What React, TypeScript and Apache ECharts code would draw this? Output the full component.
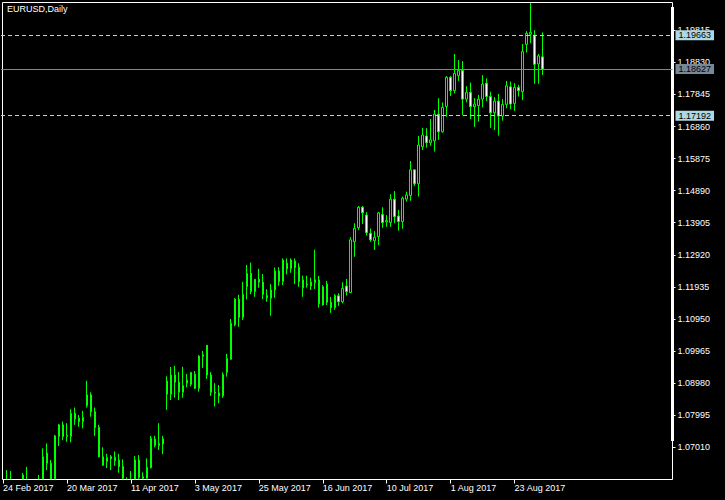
import React, { useEffect, useRef } from 'react';
import * as echarts from 'echarts';

const symbolTitle = 'EURUSD,Daily';

const dates = [
  '2017-02-24', '2017-02-27', '2017-02-28',
  '2017-03-01', '2017-03-02', '2017-03-03', '2017-03-06', '2017-03-07', '2017-03-08', '2017-03-09', '2017-03-10',
  '2017-03-13', '2017-03-14', '2017-03-15', '2017-03-16', '2017-03-17', '2017-03-20', '2017-03-21', '2017-03-22',
  '2017-03-23', '2017-03-24', '2017-03-27', '2017-03-28', '2017-03-29', '2017-03-30', '2017-03-31',
  '2017-04-03', '2017-04-04', '2017-04-05', '2017-04-06', '2017-04-07', '2017-04-10', '2017-04-11', '2017-04-12',
  '2017-04-13', '2017-04-14', '2017-04-17', '2017-04-18', '2017-04-19', '2017-04-20', '2017-04-21', '2017-04-24',
  '2017-04-25', '2017-04-26', '2017-04-27', '2017-04-28',
  '2017-05-01', '2017-05-02', '2017-05-03', '2017-05-04', '2017-05-05', '2017-05-08', '2017-05-09', '2017-05-10',
  '2017-05-11', '2017-05-12', '2017-05-15', '2017-05-16', '2017-05-17', '2017-05-18', '2017-05-19', '2017-05-22',
  '2017-05-23', '2017-05-24', '2017-05-25', '2017-05-26', '2017-05-29', '2017-05-30', '2017-05-31',
  '2017-06-01', '2017-06-02', '2017-06-05', '2017-06-06', '2017-06-07', '2017-06-08', '2017-06-09', '2017-06-12',
  '2017-06-13', '2017-06-14', '2017-06-15', '2017-06-16', '2017-06-19', '2017-06-20', '2017-06-21', '2017-06-22',
  '2017-06-23', '2017-06-26', '2017-06-27', '2017-06-28', '2017-06-29', '2017-06-30',
  '2017-07-03', '2017-07-04', '2017-07-05', '2017-07-06', '2017-07-07', '2017-07-10', '2017-07-11', '2017-07-12',
  '2017-07-13', '2017-07-14', '2017-07-17', '2017-07-18', '2017-07-19', '2017-07-20', '2017-07-21', '2017-07-24',
  '2017-07-25', '2017-07-26', '2017-07-27', '2017-07-28', '2017-07-31',
  '2017-08-01', '2017-08-02', '2017-08-03', '2017-08-04', '2017-08-07', '2017-08-08', '2017-08-09', '2017-08-10',
  '2017-08-11', '2017-08-14', '2017-08-15', '2017-08-16', '2017-08-17', '2017-08-18', '2017-08-21', '2017-08-22',
  '2017-08-23', '2017-08-24', '2017-08-25', '2017-08-28', '2017-08-29', '2017-08-30', '2017-08-31',
  '2017-09-01',
];

const opens = [
  1.0585, 1.0565, 1.0590, 1.0575, 1.0545, 1.0510, 1.0600, 1.0580, 1.0570, 1.0545,
  1.0580, 1.0683, 1.0652, 1.0604, 1.0734, 1.0770, 1.0734, 1.0734, 1.0805, 1.0790,
  1.0780, 1.0829, 1.0862, 1.0810, 1.0762, 1.0672, 1.0657, 1.0672, 1.0670, 1.0662,
  1.0642, 1.0598, 1.0600, 1.0602, 1.0662, 1.0605, 1.0606, 1.0638, 1.0726, 1.0706,
  1.0727, 1.0904, 1.0864, 1.0923, 1.0901, 1.0870, 1.0907, 1.0894, 1.0925, 1.0882,
  1.0980, 1.1014, 1.0923, 1.0870, 1.0868, 1.0859, 1.0931, 1.0971, 1.1077, 1.1155,
  1.1100, 1.1194, 1.1235, 1.1179, 1.1217, 1.1208, 1.1167, 1.1159, 1.1184, 1.1242,
  1.1210, 1.1266, 1.1249, 1.1273, 1.1254, 1.1215, 1.1199, 1.1208, 1.1206, 1.1215,
  1.1138, 1.1202, 1.1146, 1.1130, 1.1166, 1.1148, 1.1196, 1.1176, 1.1332, 1.1375,
  1.1438, 1.1414, 1.1358, 1.1335, 1.1348, 1.1416, 1.1393, 1.1391, 1.1463, 1.1411,
  1.1394, 1.1463, 1.1474, 1.1553, 1.1510, 1.1624, 1.1657, 1.1636, 1.1642, 1.1724,
  1.1670, 1.1747, 1.1837, 1.1796, 1.1842, 1.1858, 1.1770, 1.1791, 1.1747, 1.1750,
  1.1770, 1.1819, 1.1778, 1.1728, 1.1764, 1.1718, 1.1754, 1.1808, 1.1757, 1.1806,
  1.1793, 1.1938, 1.1969, 1.1967, 1.1878, 1.1900,
];

const highs = [
  1.0600, 1.0631, 1.0628, 1.0590, 1.0560, 1.0622, 1.0641, 1.0600, 1.0590, 1.0616,
  1.0698, 1.0713, 1.0662, 1.0739, 1.0773, 1.0780, 1.0775, 1.0818, 1.0823, 1.0800,
  1.0813, 1.0905, 1.0870, 1.0823, 1.0770, 1.0701, 1.0681, 1.0677, 1.0688, 1.0681,
  1.0664, 1.0609, 1.0628, 1.0674, 1.0677, 1.0624, 1.0667, 1.0736, 1.0736, 1.0775,
  1.0736, 1.0919, 1.0948, 1.0951, 1.0932, 1.0948, 1.0926, 1.0932, 1.0935, 1.0984,
  1.0997, 1.1015, 1.0932, 1.0898, 1.0892, 1.0931, 1.0988, 1.1095, 1.1159, 1.1169,
  1.1209, 1.1261, 1.1268, 1.1217, 1.1249, 1.1233, 1.1186, 1.1202, 1.1253, 1.1254,
  1.1281, 1.1281, 1.1281, 1.1281, 1.1266, 1.1228, 1.1228, 1.1222, 1.1308, 1.1227,
  1.1199, 1.1212, 1.1163, 1.1171, 1.1174, 1.1208, 1.1218, 1.1346, 1.1389, 1.1442,
  1.1442, 1.1423, 1.1373, 1.1365, 1.1424, 1.1438, 1.1414, 1.1478, 1.1488, 1.1430,
  1.1471, 1.1486, 1.1580, 1.1553, 1.1657, 1.1682, 1.1681, 1.1709, 1.1737, 1.1773,
  1.1760, 1.1841, 1.1841, 1.1909, 1.1890, 1.1887, 1.1810, 1.1821, 1.1773, 1.1783,
  1.1844, 1.1834, 1.1793, 1.1776, 1.1786, 1.1770, 1.1826, 1.1824, 1.1819, 1.1814,
  1.1939, 1.1979, 1.2070, 1.1982, 1.1909, 1.1975,
];

const lows = [
  1.0552, 1.0550, 1.0570, 1.0510, 1.0495, 1.0495, 1.0560, 1.0560, 1.0535, 1.0525,
  1.0575, 1.0631, 1.0598, 1.0600, 1.0705, 1.0723, 1.0718, 1.0716, 1.0770, 1.0764,
  1.0759, 1.0823, 1.0795, 1.0736, 1.0670, 1.0644, 1.0637, 1.0631, 1.0644, 1.0623,
  1.0590, 1.0570, 1.0570, 1.0590, 1.0595, 1.0598, 1.0598, 1.0636, 1.0701, 1.0693,
  1.0680, 1.0816, 1.0846, 1.0853, 1.0846, 1.0853, 1.0885, 1.0888, 1.0880, 1.0872,
  1.0945, 1.0911, 1.0859, 1.0826, 1.0836, 1.0853, 1.0918, 1.0970, 1.1073, 1.1071,
  1.1092, 1.1155, 1.1171, 1.1163, 1.1191, 1.1156, 1.1148, 1.1105, 1.1160, 1.1197,
  1.1199, 1.1232, 1.1237, 1.1202, 1.1194, 1.1163, 1.1191, 1.1184, 1.1187, 1.1130,
  1.1136, 1.1138, 1.1114, 1.1123, 1.1135, 1.1143, 1.1167, 1.1175, 1.1286, 1.1368,
  1.1387, 1.1351, 1.1332, 1.1307, 1.1322, 1.1375, 1.1378, 1.1378, 1.1389, 1.1366,
  1.1372, 1.1455, 1.1458, 1.1503, 1.1471, 1.1614, 1.1621, 1.1627, 1.1609, 1.1645,
  1.1667, 1.1716, 1.1780, 1.1788, 1.1826, 1.1721, 1.1760, 1.1709, 1.1685, 1.1701,
  1.1745, 1.1764, 1.1682, 1.1675, 1.1658, 1.1704, 1.1742, 1.1739, 1.1734, 1.1778,
  1.1767, 1.1913, 1.1942, 1.1817, 1.1817, 1.1844,
];

const closes = [
  1.0562, 1.0590, 1.0575, 1.0545, 1.0505, 1.0616, 1.0580, 1.0570, 1.0545, 1.0580,
  1.0672, 1.0652, 1.0604, 1.0736, 1.0770, 1.0734, 1.0738, 1.0805, 1.0788, 1.0780,
  1.0793, 1.0862, 1.0810, 1.0762, 1.0672, 1.0646, 1.0669, 1.0666, 1.0660, 1.0642,
  1.0606, 1.0600, 1.0602, 1.0662, 1.0609, 1.0611, 1.0640, 1.0729, 1.0707, 1.0713,
  1.0711, 1.0864, 1.0923, 1.0901, 1.0870, 1.0891, 1.0898, 1.0931, 1.0882, 1.0981,
  1.0985, 1.0923, 1.0870, 1.0867, 1.0859, 1.0925, 1.0974, 1.1082, 1.1156, 1.1100,
  1.1171, 1.1235, 1.1179, 1.1217, 1.1208, 1.1171, 1.1160, 1.1184, 1.1242, 1.1210,
  1.1276, 1.1249, 1.1276, 1.1253, 1.1210, 1.1191, 1.1202, 1.1196, 1.1215, 1.1142,
  1.1194, 1.1146, 1.1130, 1.1167, 1.1148, 1.1189, 1.1179, 1.1338, 1.1373, 1.1438,
  1.1421, 1.1360, 1.1338, 1.1346, 1.1421, 1.1391, 1.1397, 1.1463, 1.1409, 1.1394,
  1.1466, 1.1476, 1.1553, 1.1510, 1.1629, 1.1660, 1.1636, 1.1645, 1.1724, 1.1670,
  1.1745, 1.1837, 1.1796, 1.1849, 1.1858, 1.1770, 1.1791, 1.1747, 1.1755, 1.1770,
  1.1816, 1.1778, 1.1728, 1.1764, 1.1718, 1.1754, 1.1811, 1.1755, 1.1806, 1.1796,
  1.1916, 1.1972, 1.1975, 1.1877, 1.1903, 1.18627,
];

const priceTicks = [
  1.0701, 1.07995, 1.0898, 1.09965, 1.1095, 1.11935, 1.1292,
  1.13905, 1.1489, 1.15875, 1.1686, 1.17845, 1.1883, 1.19815,
];

const upperLevel = 1.19663;
const lowerLevel = 1.17192;
const bidPrice = 1.18627;

const MONTHS = ['Jan', 'Feb', 'Mar', 'Apr', 'May', 'Jun', 'Jul', 'Aug', 'Sep', 'Oct', 'Nov', 'Dec'];
const SLOTS = 168;
const FONT = 'Liberation Sans';

function fmtDate(s: string): string {
  const parts = s.split('-');
  if (parts.length !== 3) return '';
  return `${parseInt(parts[2], 10)} ${MONTHS[parseInt(parts[1], 10) - 1]} ${parts[0]}`;
}

export default function App() {
  const ref = useRef<HTMLDivElement>(null);

  useEffect(() => {
    if (!ref.current) return;
    const chart = echarts.init(ref.current, null, { renderer: 'svg' });

    const categories: string[] = dates.slice();
    for (let i = dates.length; i < SLOTS; i++) categories.push('pad' + i);
    const candles = dates.map((_, i) => [opens[i], closes[i], lows[i], highs[i]]);
    const showIdx = (index: number) => index % 16 === 0 && index < dates.length;

    const lineLabel = (bg: string) => ({
      show: true,
      position: 'end',
      distance: 3,
      formatter: (p: any) => Number(p.value).toFixed(5),
      color: '#000',
      backgroundColor: bg,
      padding: [1, 3, 0, 3],
      fontSize: 9,
      fontFamily: FONT,
    });

    chart.setOption({
      animation: false,
      backgroundColor: '#000',
      grid: { left: 0.5, right: 52.5, top: 2.5, bottom: 20.5, containLabel: false },
      xAxis: {
        type: 'category',
        data: categories,
        boundaryGap: true,
        z: 10,
        axisLine: { show: false },
        axisTick: {
          show: true,
          alignWithLabel: true,
          interval: showIdx,
          length: 4,
          lineStyle: { color: '#fff', width: 1 },
        },
        axisLabel: {
          show: true,
          interval: showIdx,
          formatter: (v: string) => fmtDate(v),
          color: '#fff',
          fontSize: 9,
          fontFamily: FONT,
          align: 'left',
          margin: 4,
        },
        splitLine: { show: false },
      },
      yAxis: {
        type: 'value',
        position: 'right',
        min: 1.06021,
        max: 1.20668,
        scale: true,
        z: 10,
        axisLine: { show: false },
        splitLine: { show: false },
        axisTick: {
          show: true,
          customValues: priceTicks,
          length: 3,
          lineStyle: { color: '#fff', width: 1 },
        },
        axisLabel: {
          show: true,
          customValues: priceTicks,
          formatter: (v: number) => v.toFixed(5),
          color: '#fff',
          fontSize: 9,
          fontFamily: FONT,
          margin: 5,
        },
      },
      series: [
        {
          type: 'candlestick',
          data: candles,
          barWidth: 2,
          clip: true,
          z: 2,
          itemStyle: {
            color: '#000000',
            color0: '#ffffff',
            borderColor: '#00ff00',
            borderColor0: '#00ff00',
            borderWidth: 1,
          },
          markLine: {
            silent: true,
            symbol: ['none', 'none'],
            precision: 5,
            animation: false,
            z: 20,
            data: [
              { yAxis: upperLevel, lineStyle: { color: '#add8e6', type: [4, 3], width: 1 }, label: lineLabel('#add8e6') },
              { yAxis: bidPrice, lineStyle: { color: '#778899', type: 'solid', width: 1 }, label: lineLabel('#778899') },
              { yAxis: lowerLevel, lineStyle: { color: '#add8e6', type: [4, 3], width: 1 }, label: lineLabel('#add8e6') },
            ],
          },
        },
      ],
      graphic: [
        // masks hiding the parts of candles that fall outside the price window
        { type: 'rect', silent: true, z: 5, shape: { x: 0, y: 480, width: 725, height: 20 }, style: { fill: '#000' } },
        { type: 'rect', silent: true, z: 5, shape: { x: 0, y: 0, width: 725, height: 2 }, style: { fill: '#000' } },
        { type: 'rect', silent: true, z: 5, shape: { x: 0, y: 0, width: 2, height: 500 }, style: { fill: '#000' } },
        {
          type: 'rect',
          silent: true,
          z: 6,
          shape: { x: 2.5, y: 2.5, width: 670, height: 477 },
          style: { fill: 'transparent', stroke: '#ffffff', lineWidth: 1 },
        },
        {
          type: 'rect',
          silent: true,
          z: 6,
          shape: { x: 671, y: 7, width: 3, height: 434 },
          style: { fill: '#ffffff' },
        },
        {
          type: 'text',
          silent: true,
          z: 6,
          x: 7,
          y: 4,
          style: { text: symbolTitle, fill: '#ffffff', font: `9px "${FONT}"`, verticalAlign: 'top' },
        },
      ],
    });

    return () => chart.dispose();
  }, []);

  return (
    <div
      ref={ref}
      style={{ position: 'fixed', left: 0, top: 0, width: 725, height: 500, background: '#000' }}
    />
  );
}
